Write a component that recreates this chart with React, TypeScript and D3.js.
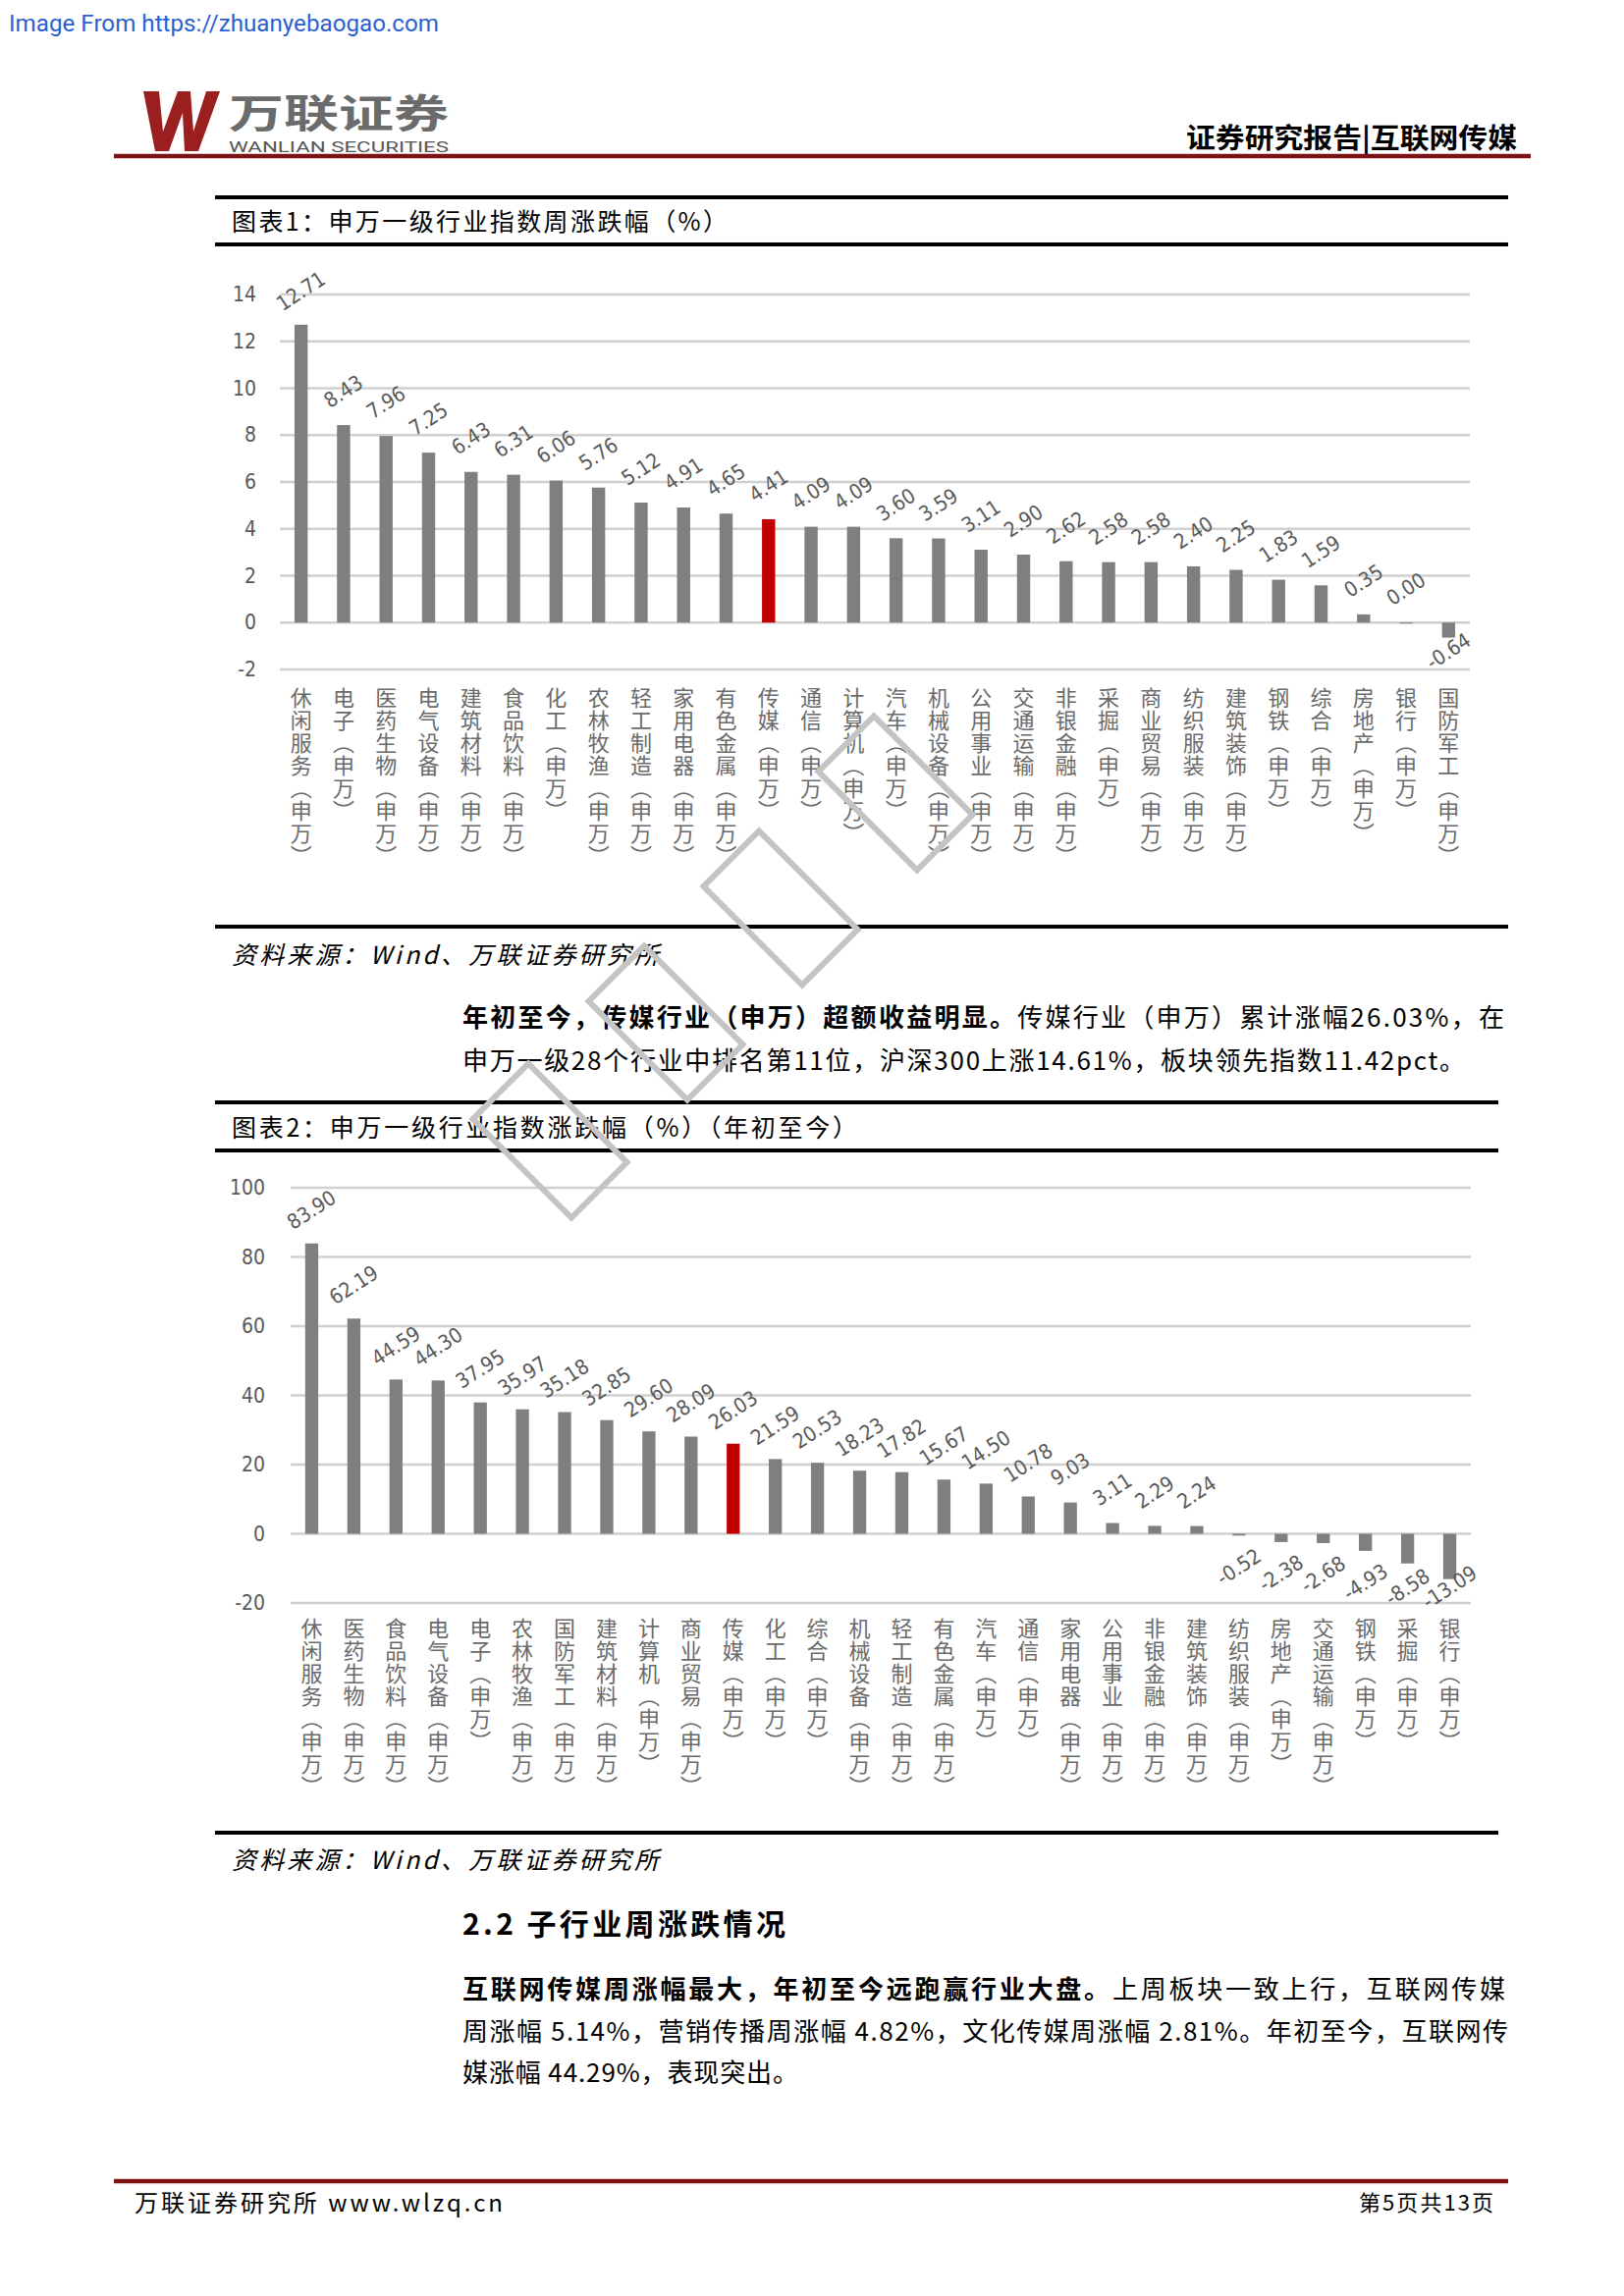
import { useEffect, useRef } from 'react';
import * as d3 from 'd3';

const PAGE_W = 1654;
const PAGE_H = 2339;

// 图表1：周涨跌幅
const weeklyCats = [
  '休闲服务', '电子', '医药生物', '电气设备', '建筑材料', '食品饮料', '化工', '农林牧渔',
  '轻工制造', '家用电器', '有色金属', '传媒', '通信', '计算机', '汽车', '机械设备',
  '公用事业', '交通运输', '非银金融', '采掘', '商业贸易', '纺织服装', '建筑装饰', '钢铁',
  '综合', '房地产', '银行', '国防军工',
];
const weeklyValues = [
  12.71, 8.43, 7.96, 7.25, 6.43, 6.31, 6.06, 5.76,
  5.12, 4.91, 4.65, 4.41, 4.09, 4.09, 3.6, 3.59,
  3.11, 2.9, 2.62, 2.58, 2.58, 2.4, 2.25, 1.83,
  1.59, 0.35, 0.0, -0.64,
];
const weeklyTicks = [14, 12, 10, 8, 6, 4, 2, 0, -2];

// 图表2：年初至今涨跌幅
const ytdCats = [
  '休闲服务', '医药生物', '食品饮料', '电气设备', '电子', '农林牧渔', '国防军工', '建筑材料',
  '计算机', '商业贸易', '传媒', '化工', '综合', '机械设备', '轻工制造', '有色金属',
  '汽车', '通信', '家用电器', '公用事业', '非银金融', '建筑装饰', '纺织服装', '房地产',
  '交通运输', '钢铁', '采掘', '银行',
];
const ytdValues = [
  83.9, 62.19, 44.59, 44.3, 37.95, 35.97, 35.18, 32.85,
  29.6, 28.09, 26.03, 21.59, 20.53, 18.23, 17.82, 15.67,
  14.5, 10.78, 9.03, 3.11, 2.29, 2.24, -0.52, -2.38,
  -2.68, -4.93, -8.58, -13.09,
];
const ytdTicks = [100, 80, 60, 40, 20, 0, -20];

const highlightCat = '传媒';
const catSuffix = '（申万）';

const CJK = '"Noto Sans CJK SC", "Noto Sans", sans-serif';
const NARROW = '"DejaVu Sans Condensed", "Roboto", sans-serif';

type Part = { t: string; b?: boolean };
type G = d3.Selection<SVGGElement, unknown, null, undefined>;

interface TextOpts {
  size: number;
  fill?: string;
  weight?: string | number;
  italic?: boolean;
  family?: string;
  anchor?: string;
  width?: number;
  squeeze?: boolean; // fit by scaling glyphs instead of spacing
}

function addText(g: G, x: number, y: number, content: string | Part[], o: TextOpts) {
  const parts: Part[] = typeof content === 'string' ? [{ t: content }] : content;
  const t = g.append('text')
    .attr('x', x)
    .attr('y', y)
    .attr('dominant-baseline', 'central')
    .attr('text-anchor', o.anchor ?? 'start')
    .attr('font-size', o.size)
    .attr('font-family', o.family ?? CJK)
    .attr('fill', o.fill ?? '#000')
    .attr('font-weight', o.weight ?? 'normal')
    .attr('font-style', o.italic ? 'italic' : 'normal');
  parts.forEach((p) => {
    t.append('tspan').attr('font-weight', p.b ? 'bold' : null).text(p.t);
  });
  if (o.width) {
    if (o.squeeze) {
      t.attr('textLength', o.width).attr('lengthAdjust', 'spacingAndGlyphs');
    } else {
      const node = t.node()!;
      const natural = node.getComputedTextLength();
      const n = parts.reduce((s, p) => s + p.t.length, 0);
      if (n > 1) t.attr('letter-spacing', (o.width - natural) / (n - 1));
    }
  }
  return t;
}

interface ChartCfg {
  cats: string[];
  values: number[];
  ticks: number[];
  x0: number;
  x1: number;
  yTop: number;
  yBottom: number;
  labelTop: number;
  negOffset: number;
  negMax: number;
  tickGap: number;
}

function drawBarChart(g: G, c: ChartCfg) {
  const y = d3.scaleLinear()
    .domain([d3.min(c.ticks)!, d3.max(c.ticks)!])
    .range([c.yBottom, c.yTop]);
  const x = d3.scaleBand<string>()
    .domain(c.cats)
    .range([c.x0, c.x1])
    .paddingInner(0.69)
    .paddingOuter(0.345);

  const grid = g.append('g');
  c.ticks.forEach((t) => {
    grid.append('line')
      .attr('x1', c.x0).attr('x2', c.x1)
      .attr('y1', y(t)).attr('y2', y(t))
      .attr('stroke', '#d0d0d0')
      .attr('stroke-width', 2.5);
    g.append('text')
      .attr('x', c.x0 - c.tickGap)
      .attr('y', y(t))
      .attr('text-anchor', 'end')
      .attr('dominant-baseline', 'central')
      .attr('font-family', NARROW)
      .attr('font-size', 21)
      .attr('fill', '#595959')
      .text(String(t));
  });

  const bw = x.bandwidth();
  c.cats.forEach((cat, i) => {
    const v = c.values[i];
    const bx = x(cat)!;
    const cx = bx + bw / 2;
    const top = y(Math.max(v, 0));
    const bot = y(Math.min(v, 0));
    g.append('rect')
      .attr('x', bx)
      .attr('y', top)
      .attr('width', bw)
      .attr('height', Math.max(bot - top, 1))
      .attr('fill', cat === highlightCat ? '#c00000' : '#7f7f7f');

    const ly = v < 0 ? Math.min(bot + c.negOffset, c.negMax) : top - 34;
    g.append('text')
      .attr('transform', `translate(${cx},${ly}) rotate(-33)`)
      .attr('text-anchor', 'middle')
      .attr('dominant-baseline', 'central')
      .attr('font-family', NARROW)
      .attr('font-size', 21)
      .attr('fill', '#595959')
      .text(v.toFixed(2));

    g.append('text')
      .attr('x', cx)
      .attr('y', c.labelTop)
      .style('writing-mode', 'vertical-rl')
      .attr('font-family', CJK)
      .attr('font-size', 22)
      .attr('letter-spacing', 1)
      .attr('fill', '#6a6a6a')
      .text(cat + catSuffix);
  });
}

function thickLine(g: G, x1: number, x2: number, yy: number, color = '#000', w = 4) {
  g.append('line')
    .attr('x1', x1).attr('x2', x2)
    .attr('y1', yy).attr('y2', yy)
    .attr('stroke', color)
    .attr('stroke-width', w);
}

export default function App() {
  const svgRef = useRef<SVGSVGElement>(null);

  useEffect(() => {
    if (!svgRef.current) return;
    const svg = d3.select(svgRef.current);
    svg.selectAll('*').remove();
    const g = svg.append('g') as unknown as G;

    g.append('rect').attr('width', PAGE_W).attr('height', PAGE_H).attr('fill', '#fff');

    // top note
    addText(g, 9, 24, 'Image From https://zhuanyebaogao.com', {
      size: 23, fill: '#2a5fd0', family: 'Roboto, sans-serif', width: 438, squeeze: true,
    });

    // logo
    g.append('path')
      .attr('d', 'M146,93 L162,93 L166,134 L181,93 L194,93 L197,134 L210,93 L224,93 L202,154 L188,154 L186,115 L172,154 L158,154 Z')
      .attr('fill', '#9b1f1f');
    addText(g, 233, 113, '万联证券', { size: 40, fill: '#6b6b6b', weight: 'bold', width: 224, squeeze: true });
    addText(g, 233, 150, 'WANLIAN SECURITIES', { size: 15, fill: '#555', family: 'Roboto, sans-serif', width: 224, squeeze: true });
    addText(g, 1208, 139, '证券研究报告|互联网传媒', { size: 28, weight: 'bold', width: 337, squeeze: true });
    thickLine(g, 116, 1559, 159, '#7d1213', 4.5);

    // chart 1
    thickLine(g, 219, 1536, 201);
    addText(g, 236, 224, '图表1：申万一级行业指数周涨跌幅（%）', { size: 25, width: 505 });
    thickLine(g, 219, 1536, 249);
    drawBarChart(g, {
      cats: weeklyCats, values: weeklyValues, ticks: weeklyTicks,
      x0: 285, x1: 1497, yTop: 300, yBottom: 682, labelTop: 700,
      negOffset: 14, negMax: 670, tickGap: 24,
    });
    thickLine(g, 219, 1536, 944);
    addText(g, 236, 971, '资料来源：Wind、万联证券研究所', { size: 25, italic: true, width: 435 });

    addText(g, 471, 1034, [
      { t: '年初至今，传媒行业（申万）超额收益明显。', b: true },
      { t: '传媒行业（申万）累计涨幅26.03%，在' },
    ], { size: 26, width: 1061 });
    addText(g, 471, 1078, '申万一级28个行业中排名第11位，沪深300上涨14.61%，板块领先指数11.42pct。', { size: 26, width: 1021 });

    // chart 2
    thickLine(g, 219, 1526, 1123);
    addText(g, 236, 1147, '图表2：申万一级行业指数涨跌幅（%）（年初至今）', { size: 25, width: 637 });
    thickLine(g, 219, 1526, 1172);
    drawBarChart(g, {
      cats: ytdCats, values: ytdValues, ticks: ytdTicks,
      x0: 296, x1: 1498, yTop: 1210, yBottom: 1633, labelTop: 1648,
      negOffset: 32, negMax: 1617, tickGap: 26,
    });
    thickLine(g, 219, 1526, 1867);
    addText(g, 236, 1893, '资料来源：Wind、万联证券研究所', { size: 25, italic: true, width: 435 });

    addText(g, 471, 1958, '2.2 子行业周涨跌情况', { size: 30, weight: 'bold', width: 329 });
    addText(g, 471, 2024, [
      { t: '互联网传媒周涨幅最大，年初至今远跑赢行业大盘。', b: true },
      { t: '上周板块一致上行，互联网传媒' },
    ], { size: 26, width: 1062 });
    addText(g, 471, 2067, '周涨幅 5.14%，营销传播周涨幅 4.82%，文化传媒周涨幅 2.81%。年初至今，互联网传', { size: 26, width: 1065 });
    addText(g, 471, 2109, '媒涨幅 44.29%，表现突出。', { size: 26, width: 342 });

    // footer
    thickLine(g, 116, 1536, 2222, '#7d1213', 4.5);
    addText(g, 137, 2242, '万联证券研究所 www.wlzq.cn', { size: 24, width: 375 });
    addText(g, 1384, 2242, '第5页共13页', { size: 22, width: 137 });

    // watermark
    const wm = g.append('g').attr('fill', 'none').attr('stroke', '#c4c4c4').attr('stroke-width', 6);
    [[912, 808], [795, 925], [678, 1042], [560, 1162]].forEach(([cx, cy]) => {
      wm.append('rect')
        .attr('x', -40).attr('y', -71)
        .attr('width', 80).attr('height', 142)
        .attr('transform', `translate(${cx},${cy}) rotate(-45)`);
    });
  }, []);

  return (
    <svg
      ref={svgRef}
      width={PAGE_W}
      height={PAGE_H}
      style={{ position: 'absolute', left: 0, top: 0, display: 'block' }}
    />
  );
}
